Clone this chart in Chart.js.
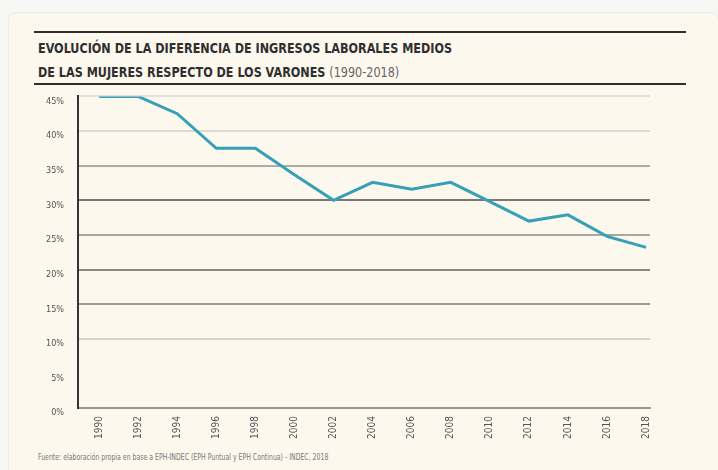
<!DOCTYPE html>
<html><head><meta charset="utf-8">
<script src="https://cdn.jsdelivr.net/npm/chart.js@4"></script>
<style>
html,body{margin:0;padding:0;width:718px;height:470px;background:#f7f7f6;overflow:hidden;}
#card{position:absolute;left:9px;top:13px;width:709px;height:470px;background:#fdf8ee;border-radius:7px;box-shadow:0 0 2px rgba(0,0,0,0.15);}
.rule{position:absolute;left:34px;width:652px;height:2px;background:#2e2e2e;}
#title{position:absolute;left:38px;top:36px;font-family:"Liberation Sans Narrow","DejaVu Sans Condensed",sans-serif;font-weight:bold;font-size:14px;line-height:24px;color:#2f2f2f;transform:scaleX(0.89);transform-origin:0 0;white-space:nowrap;}
#title .light{font-weight:normal;color:#666;}
#src{position:absolute;left:38px;top:453px;font-family:"Liberation Sans Narrow","DejaVu Sans Condensed",sans-serif;font-size:8px;color:#777;white-space:nowrap;transform:scaleX(0.86);transform-origin:0 0;}
#wrap{position:absolute;left:0;top:77px;width:700px;height:366px;}
</style></head>
<body>
<div id="card"></div>
<div class="rule" style="top:31px"></div>
<div class="rule" style="top:83px"></div>
<div id="title">EVOLUCIÓN DE LA DIFERENCIA DE INGRESOS LABORALES MEDIOS<br>DE LAS MUJERES RESPECTO DE LOS VARONES <span class="light">(1990-2018)</span></div>
<div id="src">Fuente: elaboración propia en base a EPH-INDEC (EPH Puntual y EPH Continua) - INDEC, 2018</div>
<div id="wrap"><canvas id="c" width="700" height="366"></canvas></div>
<script>
const years = [1990,1992,1994,1996,1998,2000,2002,2004,2006,2008,2010,2012,2014,2016,2018];
const gap = [45, 45, 42.5, 37.5, 37.5, 33.7, 30, 32.6, 31.6, 32.6, 29.8, 27, 27.9, 24.8, 23.2];
const yTicks = [0,5,10,15,20,25,30,35,40,45];
const gridColors = {45:"#e4e2dc",40:"#dcdad4",35:"#b0aba4",30:"#7d7873",25:"#aaa59e",20:"#8d8882",15:"#a19c96",10:"#d6d3cd",5:"rgba(0,0,0,0)",0:"rgba(0,0,0,0)"};
const cond = '"Liberation Sans Narrow","DejaVu Sans Condensed",sans-serif';

new Chart(document.getElementById('c'), {
  type:'line',
  data:{datasets:[{data:years.map((y,i)=>({x:y,y:gap[i]})),borderColor:'#35a0b6',borderWidth:3,pointRadius:0,tension:0,fill:false}]},
  options:{
    responsive:false,animation:false,
    layout:{padding:{left:32,right:50,top:5,bottom:4}},
    plugins:{legend:{display:false},tooltip:{enabled:false}},
    scales:{
      x:{type:'linear',min:1988.92,max:2018.2,
         afterBuildTicks:(s)=>{s.ticks=years.map(v=>({value:v}));},
         grid:{display:false},border:{color:'#9a9690',width:2},
         ticks:{maxRotation:90,minRotation:90,color:'#555',padding:0,font:{family:cond,size:10},callback:(v)=>String(v)}},
      y:{min:0,max:45,afterBuildTicks:(s)=>{s.ticks=yTicks.map(v=>({value:v}));},
         grid:{drawTicks:false,lineWidth:2,color:(ctx)=>gridColors[ctx.tick.value]||'#aaa'},
         border:{color:'#333',width:2},
         ticks:{padding:14,labelOffset:5,color:'#555',font:{family:cond,size:9},callback:(v)=>v+'%'}}
    }
  }
});
</script>
</body></html>
